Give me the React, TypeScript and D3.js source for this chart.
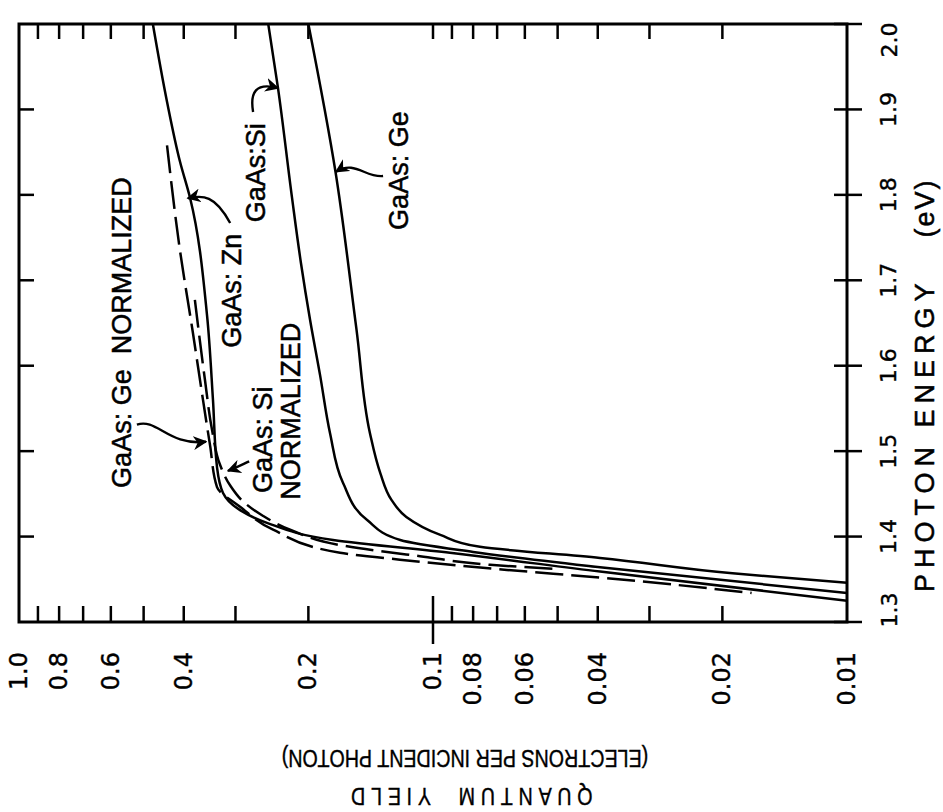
import React, { useEffect, useRef } from "react";
import * as d3 from "d3";

// photon energy (eV) vs quantum yield
const energyTicks = [1.3, 1.4, 1.5, 1.6, 1.7, 1.8, 1.9, 2.0];
const yieldLabelValues = [1.0, 0.8, 0.6, 0.4, 0.2, 0.1, 0.08, 0.06, 0.04, 0.02, 0.01];
const yieldLabels = ["1.0", "0.8", "0.6", "0.4", "0.2", "0.1", "0.08", "0.06", "0.04", "0.02", "0.01"];
const yieldMinor = [0.9, 0.8, 0.7, 0.6, 0.5, 0.4, 0.3, 0.2, 0.09, 0.08, 0.07, 0.06, 0.05, 0.04, 0.03, 0.02];

// [energy, yield]
const gaAsZn = [
  [2.0, 0.475], [1.909, 0.439], [1.839, 0.4085], [1.796, 0.386], [1.659, 0.3514],
  [1.56, 0.34], [1.481, 0.3324], [1.451, 0.3215], [1.431, 0.2925], [1.416, 0.2518],
  [1.396, 0.1743], [1.381, 0.091], [1.359, 0.0395], [1.325, 0.01],
];
const gaAsSi = [
  [2.0, 0.25], [1.925, 0.2368], [1.797, 0.2191], [1.72, 0.2084], [1.6535, 0.1981],
  [1.589, 0.1874], [1.521, 0.1773], [1.463, 0.165], [1.419, 0.144], [1.396, 0.12],
  [1.382, 0.08], [1.364, 0.0395], [1.334, 0.01],
];
const gaAsGe = [
  [2.0, 0.2], [1.827, 0.172], [1.642, 0.153], [1.521, 0.142], [1.474, 0.134],
  [1.443, 0.126], [1.423, 0.116], [1.402, 0.096], [1.388, 0.077], [1.375, 0.0395],
  [1.357, 0.0189], [1.346, 0.01],
];
const gaAsGeNorm = [
  [1.858, 0.439], [1.735, 0.4085], [1.638, 0.38], [1.56, 0.3594], [1.507, 0.3456],
  [1.458, 0.3324], [1.435, 0.2925], [1.408, 0.2434], [1.381, 0.1677], [1.373, 0.1202],
  [1.361, 0.0663], [1.352, 0.0395], [1.334, 0.017],
];
const gaAsSiNorm = [
  [1.677, 0.376], [1.583, 0.3554], [1.525, 0.3418], [1.484, 0.3269], [1.46, 0.3092],
  [1.439, 0.2844], [1.425, 0.2588], [1.408, 0.2214], [1.39, 0.1677], [1.377, 0.1075],
  [1.367, 0.0728], [1.362, 0.0502],
];

const series = [
  { data: gaAsZn, dashed: false },
  { data: gaAsSi, dashed: false },
  { data: gaAsGe, dashed: false },
  { data: gaAsGeNorm, dashed: true },
  { data: gaAsSiNorm, dashed: true },
];

// labels: text, start point [energy, yield] (text runs upward)
const notes = [
  { text: "GaAs: Ge  NORMALIZED", at: [1.457, 0.564] },
  { text: "GaAs: Zn", at: [1.621, 0.306] },
  { text: "GaAs:Si", at: [1.768, 0.2677] },
  { text: "GaAs: Ge", at: [1.759, 0.1208] },
  { text: "GaAs: Si", at: [1.451, 0.2574] },
  { text: "NORMALIZED", at: [1.443, 0.2203] },
];

// arrows: from, control 1, control 2, tip  ([energy, yield])
const arrows = [
  [[1.767, 0.309], [1.8, 0.336], [1.8, 0.36], [1.796, 0.391]],
  [[1.897, 0.272], [1.92, 0.277], [1.932, 0.268], [1.925, 0.2368]],
  [[1.822, 0.132], [1.82, 0.146], [1.841, 0.1543], [1.827, 0.1715]],
  [[1.531, 0.519], [1.539, 0.464], [1.506, 0.4366], [1.511, 0.3534]],
  [[1.488, 0.278], [1.483, 0.2925], [1.48, 0.3007], [1.477, 0.3127]],
];

export default function App() {
  const ref = useRef(null);

  useEffect(() => {
    document.body.style.margin = "0";
    const width = 943;
    const height = 812;
    const left = 19, right = 847, top = 24, bottom = 622;

    d3.select(ref.current).selectAll("*").remove();
    const svg = d3
      .select(ref.current)
      .append("svg")
      .attr("width", width)
      .attr("height", height)
      .style("display", "block")
      .style("background", "#fff");

    const x = d3.scaleLog().domain([1, 0.01]).range([left, right]);
    const y = d3.scaleLinear().domain([1.3, 2.0]).range([bottom, top]);

    svg
      .append("defs")
      .append("marker")
      .attr("id", "head")
      .attr("viewBox", "0 0 10 10")
      .attr("refX", 9)
      .attr("refY", 5)
      .attr("markerWidth", 14)
      .attr("markerHeight", 14)
      .attr("markerUnits", "userSpaceOnUse")
      .attr("orient", "auto")
      .append("path")
      .attr("d", "M0,0 L10,5 L0,10 L3,5 Z")
      .attr("fill", "#000");

    // frame
    svg
      .append("rect")
      .attr("x", left)
      .attr("y", top)
      .attr("width", right - left)
      .attr("height", bottom - top)
      .attr("fill", "none")
      .attr("stroke", "#000")
      .attr("stroke-width", 3);

    const ticks = svg.append("g").attr("stroke", "#000").attr("stroke-width", 2.5);

    // yield ticks bottom + top
    yieldMinor.forEach((v) => {
      ticks.append("line").attr("x1", x(v)).attr("x2", x(v)).attr("y1", bottom).attr("y2", bottom - 16);
      ticks.append("line").attr("x1", x(v)).attr("x2", x(v)).attr("y1", top).attr("y2", top + 15);
    });
    ticks.append("line").attr("x1", x(0.1)).attr("x2", x(0.1)).attr("y1", bottom - 26).attr("y2", bottom + 22);
    ticks.append("line").attr("x1", x(0.1)).attr("x2", x(0.1)).attr("y1", top).attr("y2", top + 15);

    // energy ticks right (crossing) + left (inside)
    energyTicks.forEach((e) => {
      ticks.append("line").attr("x1", right - 13).attr("x2", right + 15).attr("y1", y(e)).attr("y2", y(e));
      if (e > 1.3 && e < 2.0)
        ticks.append("line").attr("x1", left).attr("x2", left + 15).attr("y1", y(e)).attr("y2", y(e));
    });

    // tick labels
    svg
      .append("g")
      .selectAll("text")
      .data(yieldLabelValues)
      .join("text")
      .attr("x", (d) => x(d))
      .attr("y", 652)
      .attr("transform", (d) => `rotate(-90, ${x(d)}, 652)`)
      .attr("text-anchor", "end")
      .attr("dominant-baseline", "central")
      .attr("font-family", "DejaVu Sans")
      .attr("font-size", 24)
      .attr("stroke", "#000")
      .attr("stroke-width", 0.4)
      .text((d, i) => yieldLabels[i]);

    // end labels sit a little inside the frame
    const labelY = (e) => y(e) + (e === 2.0 ? 16 : e === 1.3 ? -12 : 0);
    svg
      .append("g")
      .selectAll("text")
      .data(energyTicks)
      .join("text")
      .attr("x", 889)
      .attr("y", (d) => labelY(d))
      .attr("transform", (d) => `rotate(-90, 889, ${labelY(d)})`)
      .attr("text-anchor", "middle")
      .attr("dominant-baseline", "central")
      .attr("font-family", "DejaVu Sans")
      .attr("font-size", 22)
      .attr("stroke", "#000")
      .attr("stroke-width", 0.4)
      .text((d) => d.toFixed(1));

    // axis titles
    const eTitle = svg
      .append("g")
      .attr("font-family", "Liberation Sans")
      .attr("font-size", 27)
      .attr("dominant-baseline", "central")
      .attr("stroke", "#000")
      .attr("stroke-width", 0.5);
    eTitle
      .append("text")
      .attr("x", 925)
      .attr("y", 592)
      .attr("transform", "rotate(-90, 925, 592)")
      .attr("letter-spacing", 6)
      .text("PHOTON ENERGY");
    eTitle
      .append("text")
      .attr("x", 925)
      .attr("y", 208)
      .attr("transform", "rotate(-90, 925, 208)")
      .attr("text-anchor", "middle")
      .attr("letter-spacing", 2)
      .text("(eV)");

    const title = svg
      .append("g")
      .attr("font-family", "Liberation Sans")
      .attr("font-size", 24)
      .attr("text-anchor", "middle")
      .attr("dominant-baseline", "central")
      .attr("stroke", "#000")
      .attr("stroke-width", 0.4);
    title
      .append("text")
      .attr("transform", "translate(465, 758) rotate(180) scale(0.82, 1)")
      .text("(ELECTRONS PER INCIDENT PHOTON)");
    title
      .append("text")
      .attr("transform", "translate(469, 796) rotate(180) scale(0.82, 1)")
      .attr("letter-spacing", 7)
      .attr("xml:space", "preserve")
      .text("QUANTUM  YIELD");

    // curves
    const line = d3
      .line()
      .x((d) => x(d[1]))
      .y((d) => y(d[0]))
      .curve(d3.curveMonotoneY);

    svg
      .append("g")
      .selectAll("path")
      .data(series)
      .join("path")
      .attr("d", (s) => line(s.data))
      .attr("fill", "none")
      .attr("stroke", "#000")
      .attr("stroke-width", 2.5)
      .attr("stroke-dasharray", (s) => (s.dashed ? "28,8" : null));

    // annotations
    svg
      .append("g")
      .selectAll("text")
      .data(notes)
      .join("text")
      .attr("x", (d) => x(d.at[1]))
      .attr("y", (d) => y(d.at[0]))
      .attr("transform", (d) => `rotate(-90, ${x(d.at[1])}, ${y(d.at[0])})`)
      .attr("dominant-baseline", "central")
      .attr("font-family", "Liberation Sans")
      .attr("font-size", 27)
      .attr("stroke", "#000")
      .attr("stroke-width", 0.5)
      .attr("xml:space", "preserve")
      .text((d) => d.text);

    svg
      .append("g")
      .selectAll("path")
      .data(arrows)
      .join("path")
      .attr("d", (a) => {
        const p = a.map((d) => [x(d[1]), y(d[0])]);
        return `M${p[0]} C${p[1]} ${p[2]} ${p[3]}`;
      })
      .attr("fill", "none")
      .attr("stroke", "#000")
      .attr("stroke-width", 2.4)
      .attr("marker-end", "url(#head)");
  }, []);

  return <div ref={ref}></div>;
}
